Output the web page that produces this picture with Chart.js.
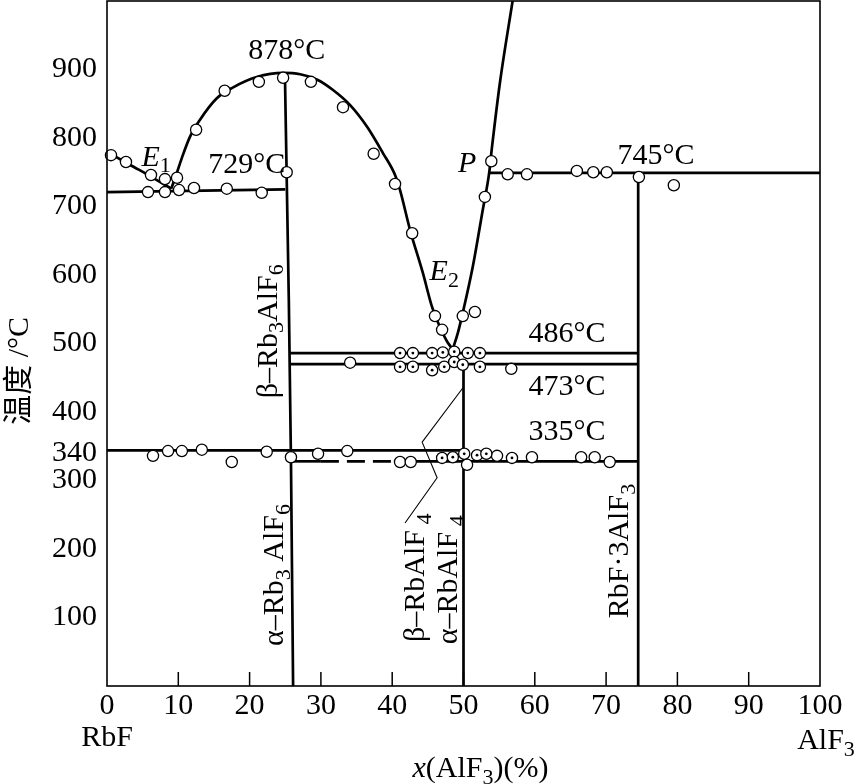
<!DOCTYPE html>
<html>
<head>
<meta charset="utf-8">
<title>RbF-AlF3 相图</title>
<script src="https://cdn.jsdelivr.net/npm/chart.js@4.4.1/dist/chart.umd.min.js"></script>
<style>
  html, body { margin: 0; padding: 0; background: #fff; }
  canvas { display: block; }
</style>
</head>
<body>
<canvas id="diagram" width="856" height="784"></canvas>
<script>
// values: [x(AlF3) %, temperature °C]
const liquidusRbF = [[0, 780], [3.2, 761], [6.3, 743], [9.0, 726]];
const liquidusDome = [
    [9.0, 726], [9.7, 746], [10.5, 771], [11.6, 801], [13.0, 826], [15.4, 858],
    [17.7, 874], [21.0, 889], [24.7, 895], [27.1, 893], [29.5, 885], [31.7, 870],
    [34.1, 848], [36.5, 816], [38.7, 778], [40.4, 746], [41.1, 724], [42.5, 666],
    [44.3, 603], [45.6, 553], [46.7, 524], [47.8, 501], [48.5, 492]
];
const liquidusRight = [
    [48.5, 492], [49.2, 515], [49.9, 545], [51.3, 612], [52.7, 695],
    [53.6, 749], [54.0, 787], [55.1, 880], [56.9, 1001]
];
const eutecticE1 = [[0, 721], [25.0, 725]];
const rb3alf6 = [[24.96, 889], [25.5, 564], [25.8, 330], [26.1, 0]];
const line486 = [[25.7, 486], [74.5, 486]];
const line473 = [[25.7, 470], [74.5, 470]];
const line340 = [[0, 344], [49.9, 344]];
const line335 = [[25.7, 328], [30.0, 328], [40.3, 328], [74.5, 328]];
const line745 = [[53.6, 749], [100, 749]];
const rbalf4 = [[50, 468], [50, 0]];
const rbf3alf3 = [[74.5, 749], [74.5, 0]];
const leader = [[49.9, 435], [44.2, 356], [46.3, 304], [41.8, 238]];

const openPoints = [
    // RbF side
    [0.56, 775], [2.66, 765], [6.17, 746], [8.13, 740], [9.82, 742],
    [5.75, 721], [8.13, 721], [10.1, 724], [12.2, 727], [16.8, 726], [21.7, 720], [25.2, 750],
    // liquidus
    [12.5, 812], [16.5, 869], [21.3, 882], [24.7, 888], [28.6, 882], [33.1, 845],
    [37.4, 777], [40.4, 733], [42.8, 661], [46.0, 540], [47.0, 520], [49.9, 540],
    [51.6, 546], [53.0, 714], [53.9, 766],
    // 745 line
    [56.2, 747], [58.9, 747], [65.9, 752], [68.2, 750], [70.1, 750], [74.6, 743], [79.5, 731],
    // 473 line
    [34.1, 472], [56.7, 463],
    // 340 / 335 lines
    [6.45, 336], [8.56, 343], [10.5, 343], [13.3, 345], [17.5, 327], [22.4, 342],
    [25.8, 334], [29.6, 339], [33.7, 343],
    [41.1, 327], [42.6, 327], [54.7, 336], [59.6, 334], [66.5, 334], [68.4, 334],
    [70.5, 327], [50.5, 323]
];
const dottedPoints = [
    [41.1, 486], [42.9, 486], [45.6, 486], [47.1, 487], [48.7, 488], [50.6, 486], [52.3, 486],
    [41.1, 466], [42.9, 466], [45.6, 461], [47.3, 466], [48.7, 473], [49.9, 469], [52.3, 466],
    [47.0, 333], [48.5, 334], [50.1, 339], [51.9, 337], [53.2, 339], [56.8, 333]
];

const yTicks = [100, 200, 300, 340, 400, 500, 600, 700, 800, 900];
const xTicks = [0, 10, 20, 30, 40, 50, 60, 70, 80, 90, 100];
const innerTicks = [10, 20, 30, 40, 50, 60, 70, 80, 90];

const FONT = '"Liberation Serif", "Noto Sans CJK SC", serif';

// text labels inside the plot, anchored in data units (centre of the text)
const notes = [
    { runs: [{ t: '878°C' }], x: 25.2, y: 930 },
    { runs: [{ t: '729°C' }], x: 19.6, y: 764 },
    { runs: [{ t: 'E', it: true }, { t: '1', sub: true }], x: 6.9, y: 774 },
    { runs: [{ t: 'P', it: true }], x: 50.5, y: 765 },
    { runs: [{ t: 'E', it: true }, { t: '2', sub: true }], x: 47.3, y: 607 },
    { runs: [{ t: '745°C' }], x: 77.0, y: 777 },
    { runs: [{ t: '486°C' }], x: 64.5, y: 517 },
    { runs: [{ t: '473°C' }], x: 64.5, y: 439 },
    { runs: [{ t: '335°C' }], x: 64.5, y: 374 },
    { runs: [{ t: 'β–Rb' }, { t: '3', sub: true }, { t: 'AlF' }, { t: '6', sub: true }], x: 22.4, y: 518, rot: true },
    { runs: [{ t: 'α–Rb' }, { t: '3', sub: true }, { t: ' AlF' }, { t: '6', sub: true }], x: 23.3, y: 162, rot: true },
    { runs: [{ t: 'β–RbAlF' }, { t: ' 4', sub: true }], x: 43.1, y: 158, rot: true },
    { runs: [{ t: 'α–RbAlF' }, { t: ' 4', sub: true }], x: 47.7, y: 155, rot: true },
    { runs: [{ t: 'RbF·3AlF' }, { t: '3', sub: true }], x: 71.7, y: 197, rot: true }
];

function toXY(list) {
    return list.map(p => ({ x: p[0], y: p[1] }));
}

function lineSet(list, extra) {
    return Object.assign({
        data: toXY(list),
        showLine: true,
        borderColor: '#000',
        borderWidth: 2.7,
        pointRadius: 0,
        fill: false,
        order: 3
    }, extra || {});
}

// draws text made of runs (italic / subscript), centred at cx, cy
function drawRich(ctx, runs, cx, cy, size, angle) {
    const fontFor = r => (r.it ? 'italic ' : '') + Math.round(r.sub ? size * 0.72 : size) + 'px ' + FONT;
    const widths = runs.map(r => { ctx.font = fontFor(r); return ctx.measureText(r.t).width; });
    const total = widths.reduce((a, b) => a + b, 0);
    ctx.save();
    ctx.translate(cx, cy);
    ctx.rotate(angle || 0);
    ctx.fillStyle = '#000';
    ctx.textAlign = 'left';
    ctx.textBaseline = 'alphabetic';
    let x = -total / 2;
    const base = size * 0.33;
    runs.forEach((r, i) => {
        ctx.font = fontFor(r);
        ctx.fillText(r.t, x, r.sub ? base + size * 0.22 : base);
        x += widths[i];
    });
    ctx.restore();
}

const diagramPlugin = {
    id: 'diagram',
    afterDraw(chart) {
        const ctx = chart.ctx;
        const area = chart.chartArea;
        const xs = chart.scales.x;
        const ys = chart.scales.y;

        // frame + inner tick marks
        ctx.save();
        ctx.strokeStyle = '#000';
        ctx.lineWidth = 1.6;
        ctx.strokeRect(area.left, area.top, area.right - area.left, area.bottom - area.top);
        ctx.lineWidth = 1.5;
        innerTicks.forEach(v => {
            const px = xs.getPixelForValue(v);
            ctx.beginPath();
            ctx.moveTo(px, area.bottom);
            ctx.lineTo(px, area.bottom - 14);
            ctx.stroke();
        });
        ctx.restore();

        notes.forEach(n => {
            drawRich(ctx, n.runs, xs.getPixelForValue(n.x), ys.getPixelForValue(n.y), 30, n.rot ? -Math.PI / 2 : 0);
        });

        // axis texts
        drawRich(ctx, [{ t: 'RbF' }], xs.getPixelForValue(0), area.bottom + 50, 30);
        drawRich(ctx, [{ t: 'AlF' }, { t: '3', sub: true }], xs.getPixelForValue(100) + 6, area.bottom + 53, 30);
        drawRich(ctx, [{ t: 'x', it: true }, { t: '(AlF' }, { t: '3', sub: true }, { t: ')(%)' }],
            (area.left + area.right) / 2 + 17, area.bottom + 81, 30);
        drawRich(ctx, [{ t: '温度 /°C' }], 18, ys.getPixelForValue(460), 30, -Math.PI / 2);
    }
};

const datasets = [
    lineSet(liquidusRbF, { cubicInterpolationMode: 'monotone' }),
    lineSet(liquidusDome, { cubicInterpolationMode: 'monotone' }),
    lineSet(liquidusRight, { cubicInterpolationMode: 'monotone' }),
    lineSet(eutecticE1),
    lineSet(rb3alf6),
    lineSet(line486),
    lineSet(line473),
    lineSet(line340),
    lineSet(line335, { segment: { borderDash: c => c.p0DataIndex === 1 ? [18, 8] : undefined } }),
    lineSet(line745),
    lineSet(rbalf4),
    lineSet(rbf3alf3),
    lineSet(leader, { borderWidth: 1.1 }),
    {
        data: toXY(openPoints.concat(dottedPoints)),
        pointRadius: 5.6,
        pointBorderWidth: 1.3,
        pointBorderColor: '#000',
        pointBackgroundColor: '#fff',
        clip: false,
        order: 2
    },
    {
        data: toXY(dottedPoints),
        pointRadius: 1.4,
        pointBorderWidth: 0,
        pointBackgroundColor: '#000',
        clip: false,
        order: 1
    }
];

const tickFont = { family: FONT, size: 30 };

// keep the plot box where the picture has it: no extra label margins
function noPadding(s) {
    s.paddingTop = 0;
    s.paddingBottom = 0;
    s.paddingLeft = 0;
    s.paddingRight = 0;
}

new Chart(document.getElementById('diagram'), {
    type: 'scatter',
    data: { datasets: datasets },
    options: {
        responsive: false,
        animation: false,
        layout: { autoPadding: false, padding: { top: 1, right: 36, left: 0, bottom: 0 } },
        plugins: { legend: { display: false }, tooltip: { enabled: false } },
        scales: {
            x: {
                type: 'linear',
                min: 0,
                max: 100,
                afterBuildTicks: s => { s.ticks = xTicks.map(v => ({ value: v })); },
                afterFit: s => { s.height = 98; noPadding(s); },
                grid: { display: false, drawTicks: false },
                border: { display: false },
                ticks: { font: tickFont, color: '#000', padding: 2, maxRotation: 0, autoSkip: false }
            },
            y: {
                type: 'linear',
                min: 0,
                max: 1000,
                afterBuildTicks: s => { s.ticks = yTicks.map(v => ({ value: v })); },
                afterFit: s => { s.width = 107; noPadding(s); },
                grid: { display: false, drawTicks: false },
                border: { display: false },
                ticks: { font: tickFont, color: '#000', padding: 10, autoSkip: false }
            }
        }
    },
    plugins: [diagramPlugin]
});
</script>
</body>
</html>
